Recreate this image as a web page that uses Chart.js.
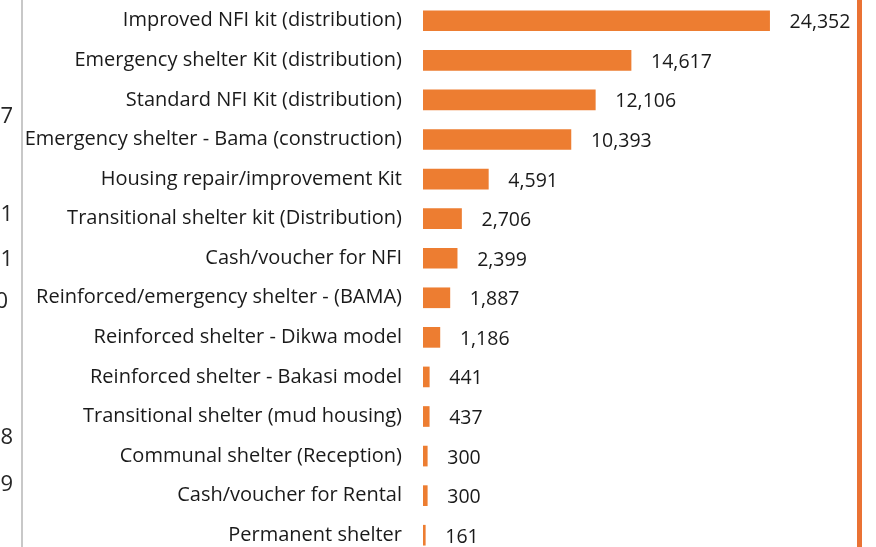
<!DOCTYPE html>
<html>
<head>
<meta charset="utf-8">
<script src="https://cdn.jsdelivr.net/npm/chart.js@4"></script>
<style>
  html, body { margin: 0; padding: 0; background: #fff; overflow: hidden; }
  #wrap { position: absolute; left: 0; top: 0; width: 876px; height: 556px; }
</style>
</head>
<body>
<div id="wrap"><canvas id="miGrafico" width="876" height="556"></canvas></div>
<script>
let categorias = [
    'Improved NFI kit (distribution)',
    'Emergency shelter Kit (distribution)',
    'Standard NFI Kit (distribution)',
    'Emergency shelter - Bama (construction)',
    'Housing repair/improvement Kit',
    'Transitional shelter kit (Distribution)',
    'Cash/voucher for NFI',
    'Reinforced/emergency shelter - (BAMA)',
    'Reinforced shelter - Dikwa model',
    'Reinforced shelter - Bakasi model',
    'Transitional shelter (mud housing)',
    'Communal shelter (Reception)',
    'Cash/voucher for Rental',
    'Permanent shelter'
];
let valores = [24352, 14617, 12106, 10393, 4591, 2706, 2399, 1887, 1186, 441, 437, 300, 300, 161];

// bits of the neighbouring chart that show at the left edge
let restosTexto = ['7', '1', '1', '0', '58', '9'];
let restosY = [117, 215, 260, 302, 438, 485];

const fuente = "'Open Sans', 'Liberation Sans', sans-serif";

const extras = {
    id: 'extras',
    afterDatasetsDraw(chart) {
        const c = chart.ctx;
        const x = chart.scales.x;
        const y = chart.scales.y;
        c.save();
        // value labels
        c.fillStyle = '#1a1a1a';
        c.font = '19.5px ' + fuente;
        c.textAlign = 'left';
        c.textBaseline = 'middle';
        valores.forEach((v, i) => {
            c.fillText(v.toLocaleString('en-US'), x.getPixelForValue(v) + 20, y.getPixelForValue(i) + 2);
        });
        // left border + cut text
        c.fillStyle = '#c8c8c8';
        c.fillRect(21, 0, 2, 556);
        c.fillStyle = '#262626';
        c.font = '22px ' + fuente;
        c.textAlign = 'right';
        restosTexto.forEach((t, i) => {
            c.fillText(t, i === 3 ? 8 : 13, restosY[i]);
        });
        // right orange border
        c.fillStyle = '#EA7234';
        c.fillRect(857, 0, 5, 556);
        c.restore();
    }
};

const ctx = document.getElementById('miGrafico').getContext('2d');
const miGrafico = new Chart(ctx, {
    type: 'bar',
    data: {
        labels: categorias,
        datasets: [{
            data: valores,
            backgroundColor: '#ED7D31',
            barThickness: 20,
        }]
    },
    options: {
        indexAxis: 'y',
        responsive: false,
        animation: false,
        layout: { padding: { top: 1, bottom: 1, right: 26, left: 0 } },
        plugins: {
            legend: { display: false },
            tooltip: { enabled: false }
        },
        scales: {
            x: {
                display: false,
                min: 0,
                max: 30000
            },
            y: {
                afterFit: (s) => {
                    s.width = 423;
                    s.paddingTop = 0;
                    s.paddingBottom = 0;
                },
                grid: { display: false, drawTicks: false },
                border: { display: false },
                ticks: {
                    padding: 21,
                    color: '#1a1a1a',
                    font: { family: fuente, size: 20 }
                }
            }
        }
    },
    plugins: [extras]
});
</script>
</body>
</html>
